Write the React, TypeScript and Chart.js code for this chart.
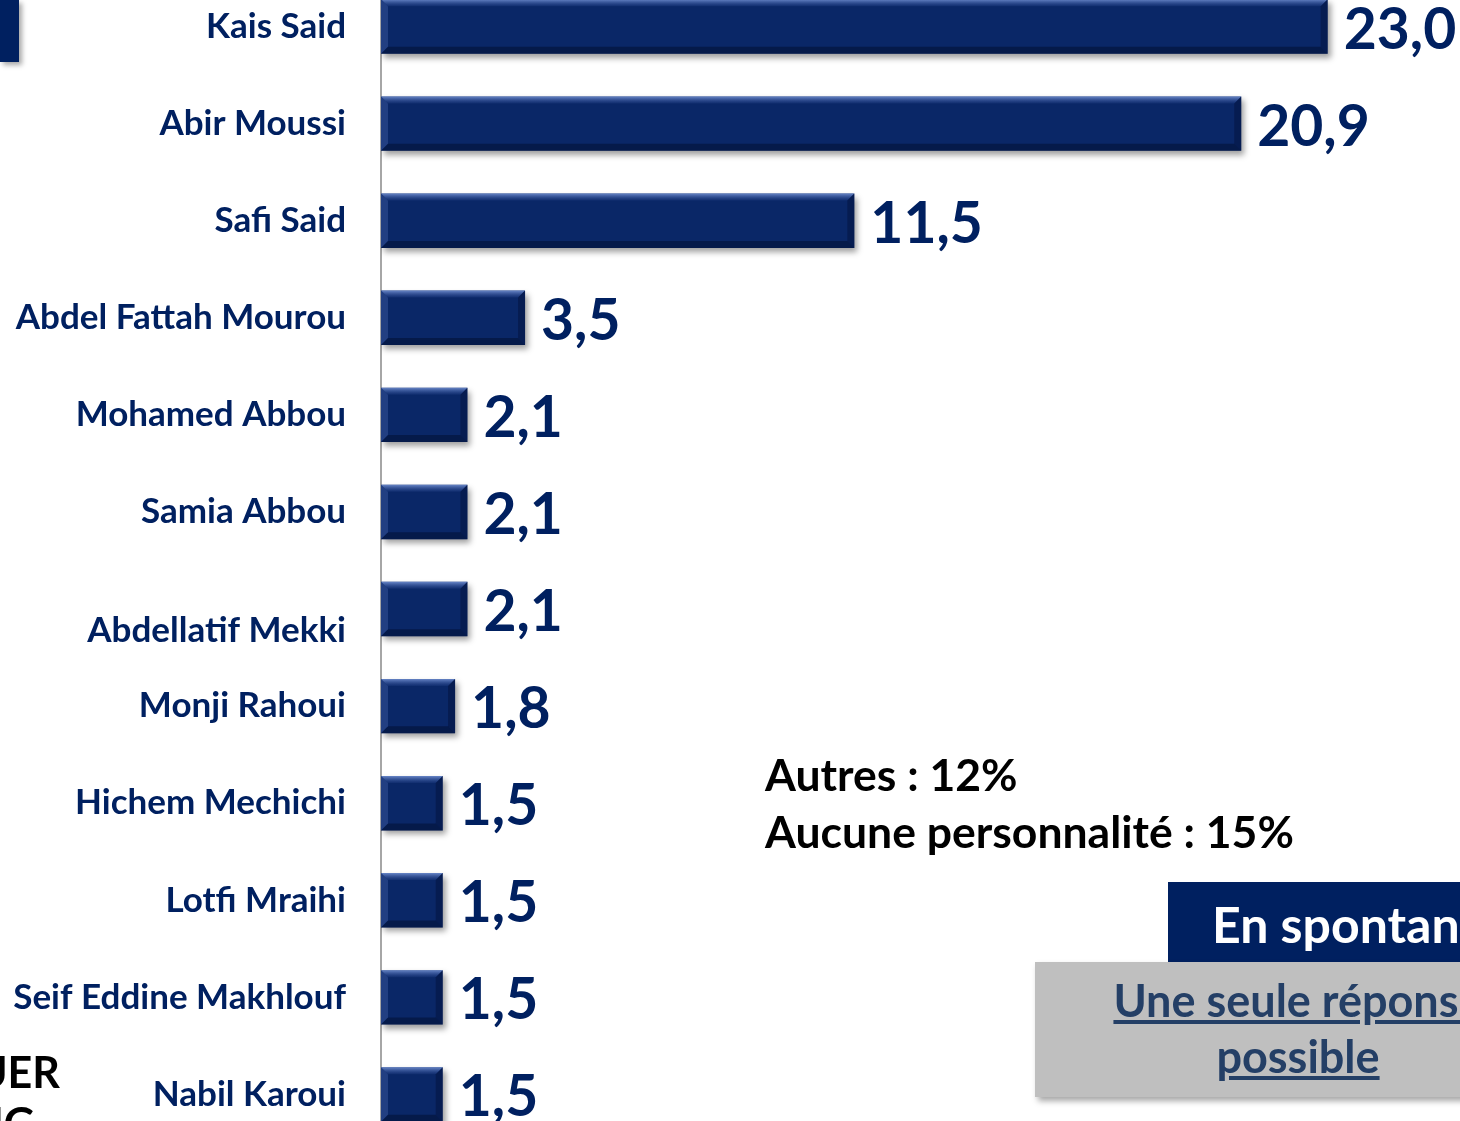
import React, { useEffect, useRef } from "react";
import { Chart, registerables } from "chart.js";

Chart.register(...registerables);

const categories = [
  "Kais Said",
  "Abir Moussi",
  "Safi Said",
  "Abdel Fattah Mourou",
  "Mohamed Abbou",
  "Samia Abbou",
  "Abdellatif Mekki",
  "Monji Rahoui",
  "Hichem Mechichi",
  "Lotfi Mraihi",
  "Seif Eddine Makhlouf",
  "Nabil Karoui",
];
const values = [23.0, 20.9, 11.5, 3.5, 2.1, 2.1, 2.1, 1.8, 1.5, 1.5, 1.5, 1.5];
const noteLines = ["Autres : 12%", "Aucune personnalité : 15%"];
const badgeTitle = "En spontané";
const badgeLines = ["Une seule réponse", "possible"];

const NAVY = "#002060";
const BAR = "#0a2767";
const FONT = "Lato, 'Open Sans', sans-serif";

function fmt(v: number) {
  return v.toFixed(1).replace(".", ",");
}

const barStyle = {
  id: "barStyle",
  beforeDatasetsDraw(chart: any) {
    const ctx = chart.ctx;
    ctx.save();
    ctx.shadowColor = "rgba(0,0,0,0.38)";
    ctx.shadowBlur = 6;
    ctx.shadowOffsetX = 3;
    ctx.shadowOffsetY = 4;
  },
  afterDatasetsDraw(chart: any) {
    const ctx = chart.ctx;
    ctx.restore();
    const meta = chart.getDatasetMeta(0);
    meta.data.forEach((bar: any, i: number) => {
      const L = Math.min(bar.base, bar.x);
      const R = Math.max(bar.base, bar.x);
      const T = bar.y - bar.height / 2;
      const B = bar.y + bar.height / 2;
      const b = 7;
      ctx.save();
      const g = ctx.createLinearGradient(0, T, 0, T + b);
      g.addColorStop(0, "rgba(120,150,215,0.85)");
      g.addColorStop(1, "rgba(60,90,165,0.15)");
      ctx.fillStyle = g;
      ctx.beginPath();
      ctx.moveTo(L, T);
      ctx.lineTo(R, T);
      ctx.lineTo(R - b, T + b);
      ctx.lineTo(L + b, T + b);
      ctx.closePath();
      ctx.fill();
      ctx.fillStyle = "rgba(80,110,180,0.35)";
      ctx.beginPath();
      ctx.moveTo(L, T);
      ctx.lineTo(L + b, T + b);
      ctx.lineTo(L + b, B - b);
      ctx.lineTo(L, B);
      ctx.closePath();
      ctx.fill();
      ctx.fillStyle = "rgba(0,10,40,0.45)";
      ctx.beginPath();
      ctx.moveTo(L, B);
      ctx.lineTo(L + b, B - b);
      ctx.lineTo(R - b, B - b);
      ctx.lineTo(R, B);
      ctx.closePath();
      ctx.fill();
      ctx.fillStyle = "rgba(0,10,40,0.35)";
      ctx.beginPath();
      ctx.moveTo(R, T);
      ctx.lineTo(R, B);
      ctx.lineTo(R - b, B - b);
      ctx.lineTo(R - b, T + b);
      ctx.closePath();
      ctx.fill();
      ctx.fillStyle = NAVY;
      ctx.font = `bold 57px ${FONT}`;
      ctx.textAlign = "left";
      ctx.textBaseline = "alphabetic";
      ctx.fillText(fmt(values[i]), R + 16, bar.y + 22);
      ctx.restore();
    });
  },
};

function textTop(baseline: number, fs: number, lh: number) {
  return baseline - ((lh - 1.2 * fs) / 2 + 0.987 * fs);
}

export default function App() {
  const ref = useRef<HTMLCanvasElement>(null);

  useEffect(() => {
    if (!ref.current) return;
    const chart = new Chart(ref.current, {
      type: "bar",
      data: {
        labels: categories,
        datasets: [
          {
            data: values,
            backgroundColor: BAR,
            borderWidth: 0,
            barPercentage: 0.56,
            categoryPercentage: 1,
          },
        ],
      },
      options: {
        indexAxis: "y",
        animation: false,
        responsive: false,
        maintainAspectRatio: false,
        layout: { padding: { left: 0, right: 50, top: 0, bottom: 0 } },
        plugins: {
          legend: { display: false },
          tooltip: { enabled: false },
          title: { display: false },
        },
        scales: {
          x: {
            display: false,
            min: 0,
            max: 25,
          },
          y: {
            afterFit: (scale: any) => {
              scale.width = 381;
              scale.paddingTop = 0;
              scale.paddingBottom = 0;
            },
            grid: { display: false, drawTicks: false },
            border: { display: true, color: "#a6a6a6", width: 2 },
            ticks: {
              autoSkip: false,
              padding: 35,
              color: NAVY,
              font: { family: FONT, size: 35, weight: "bold", lineHeight: 1.25 },
              callback: (_v: any, i: number) =>
                categories[i] === "Abdellatif Mekki" ? ["", categories[i]] : categories[i],
            },
          },
        },
      } as any,
      plugins: [barStyle],
    });
    return () => chart.destroy();
  }, []);

  const noteFs = 44.5;
  const noteLh = 57;
  const badgeFs = 50;
  const subFs = 45;
  const subLh = 56;

  return (
    <div
      style={{
        position: "fixed",
        left: 0,
        top: 0,
        width: 1460,
        height: 1121,
        overflow: "hidden",
        background: "#fff",
        fontFamily: FONT,
      }}
    >
      <canvas
        ref={ref}
        width={1460}
        height={1165}
        style={{ position: "absolute", left: 0, top: -22, width: 1460, height: 1165 }}
      />
      <div
        style={{
          position: "absolute",
          left: 0,
          top: 0,
          width: 19,
          height: 62,
          background: NAVY,
          boxShadow: "3px 3px 5px rgba(0,0,0,0.35)",
        }}
      />
      <div
        style={{
          position: "absolute",
          left: -240,
          width: 300,
          top: textTop(1088, 43, 51),
          fontSize: 43,
          lineHeight: "51px",
          fontWeight: 700,
          color: "#000",
          textAlign: "right",
        }}
      >
        UER
      </div>
      <div
        style={{
          position: "absolute",
          left: -240,
          width: 275,
          top: textTop(1139, 43, 51),
          fontSize: 43,
          lineHeight: "51px",
          fontWeight: 700,
          color: "#000",
          textAlign: "right",
        }}
      >
        NG
      </div>
      <div
        style={{
          position: "absolute",
          left: 765,
          top: textTop(791, noteFs, noteLh),
          fontSize: noteFs,
          lineHeight: `${noteLh}px`,
          fontWeight: 700,
          color: "#000",
          whiteSpace: "nowrap",
        }}
      >
        {noteLines.map((l, i) => (
          <div key={i}>{l}</div>
        ))}
      </div>
      <div
        style={{
          position: "absolute",
          left: 1168,
          top: 882,
          width: 500,
          height: 100,
          background: NAVY,
        }}
      >
        <div
          style={{
            position: "absolute",
            left: 44,
            top: textTop(943 - 882, badgeFs, badgeFs * 1.2),
            fontSize: badgeFs,
            lineHeight: `${badgeFs * 1.2}px`,
            fontWeight: 700,
            color: "#fff",
            whiteSpace: "nowrap",
          }}
        >
          {badgeTitle}
        </div>
      </div>
      <div
        style={{
          position: "absolute",
          left: 1035,
          top: 962,
          width: 526,
          height: 135,
          background: "#bfbfbf",
          boxShadow: "3px 4px 6px rgba(0,0,0,0.35)",
        }}
      >
        <div
          style={{
            position: "absolute",
            left: 0,
            width: 526,
            top: textTop(1017 - 962, subFs, subLh),
            fontSize: subFs,
            lineHeight: `${subLh}px`,
            fontWeight: 700,
            color: "#243f66",
            textAlign: "center",
            textDecoration: "underline",
            whiteSpace: "nowrap",
          }}
        >
          {badgeLines.map((l, i) => (
            <div key={i}>{l}</div>
          ))}
        </div>
      </div>
    </div>
  );
}
